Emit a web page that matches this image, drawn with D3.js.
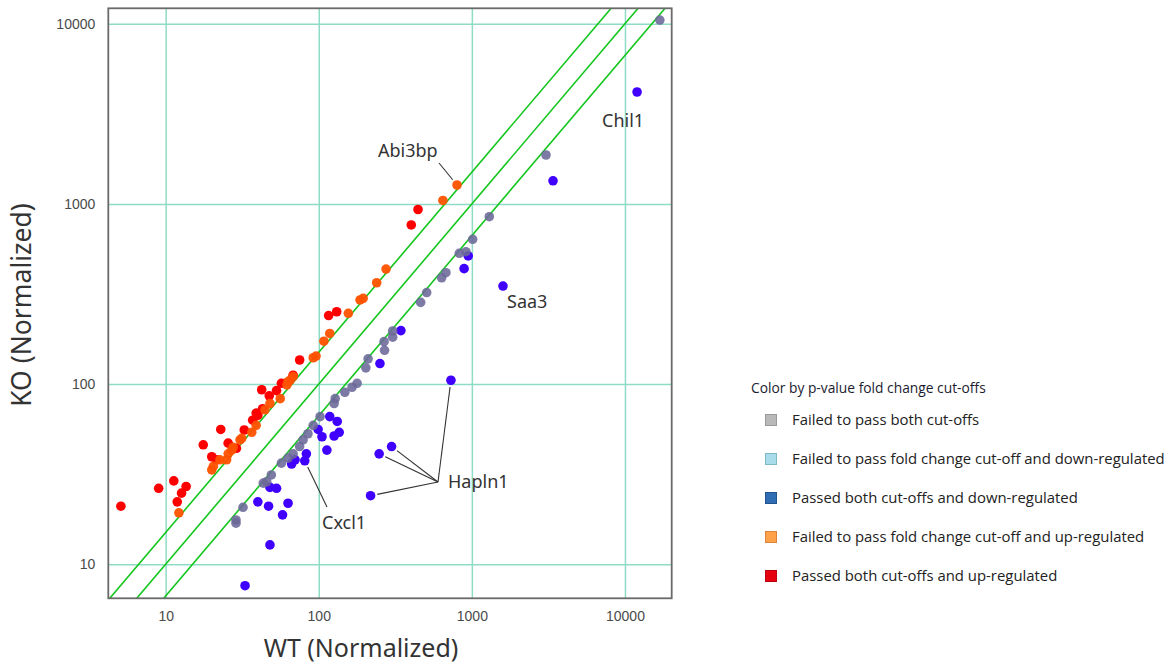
<!DOCTYPE html>
<html>
<head>
<meta charset="utf-8">
<script src="https://cdn.jsdelivr.net/npm/d3@7"></script>
<style>
  html, body { margin: 0; padding: 0; background: #fff; }
  svg { display: block; }
</style>
</head>
<body>
<svg id="chart" width="1176" height="664"></svg>
<script>
// ---------------- DATA ----------------
// [WT, KO] normalized expression pairs
const failedBoth = [
  [16900, 10480], [3050, 1868], [1300, 849], [1012, 636], [828, 532], [914, 543],
  [635, 389], [677, 415], [507, 322], [463, 284], [304, 197], [304, 182], [267, 172],
  [269, 154], [210, 138], [203, 123], [178, 101], [165, 96], [148, 90], [128, 83],
  [126, 78], [102, 66], [92, 59], [85, 53], [79, 49], [75, 45], [68, 41], [63, 38.8],
  [57, 36.4], [49, 31.3], [45.7, 28.7], [43.4, 28.2], [32, 20.7], [28.8, 17.6], [28.8, 16.9]
];
const passedDown = [
  [12000, 4180], [3390, 1343], [1597, 350], [730, 105], [299, 45], [248, 41], [218, 24],
  [890, 437], [947, 514], [251, 130], [344, 198], [118, 66], [132, 62], [136, 54],
  [126, 51.5], [99, 56], [105, 51], [113, 43], [83, 41], [81, 37.5], [70, 38], [66.5, 36],
  [48, 26.7], [53, 26.4], [40, 22.2], [47, 21], [63, 21.8], [58, 18.8], [48, 12.8], [33, 7.6]
];
const failedFcUp = [
  [800, 1273], [647, 1045], [275, 435], [239, 365], [195, 299], [186, 293], [156, 247],
  [118, 191], [108, 173], [92, 140], [96, 143], [65, 105], [62, 99], [56, 83], [48, 78],
  [44.5, 72], [39, 59], [36.5, 54], [31.4, 50], [27.6, 44.6], [25.6, 41], [22.6, 38],
  [20.5, 35], [20, 33.4], [25, 38], [27, 43], [30.6, 49], [12.2, 19.3], [68, 110], [63, 103]
];
const passedUp = [
  [445, 931], [402, 764], [131, 252], [116, 240], [75, 136], [68, 112], [57, 101],
  [53, 92], [42.4, 93], [47.5, 86], [43, 73], [39, 69], [37, 63], [40, 67], [22.9, 56],
  [32.6, 55.6], [25.6, 47], [17.6, 46], [20, 39.5], [21.5, 38], [29, 44], [9, 26.4],
  [11.3, 29], [13.6, 27], [12.7, 24.8], [11.9, 22.2], [5.1, 21]
];
const foldLines = [1, 1.5, 1 / 1.5];
const tickValues = [10, 100, 1000, 10000];
const legendTitle = "Color by p-value fold change cut-offs";
const legendLabels = [
  "Failed to pass both cut-offs",
  "Failed to pass fold change cut-off and down-regulated",
  "Passed both cut-offs and down-regulated",
  "Failed to pass fold change cut-off and up-regulated",
  "Passed both cut-offs and up-regulated"
];
const legendColors = ["#b9b9b9", "#a9dcea", "#2f6db5", "#ffa24a", "#e6000f"];
const legendStrokes = ["#9a9a9a", "#80b8c8", "#23538c", "#d9843a", "#b8000c"];
// gene annotations: gene, WT, KO of the point(s)
const geneLabels = [
  { gene: "Chil1", pts: [] },
  { gene: "Abi3bp", pts: [[800, 1273]] },
  { gene: "Saa3", pts: [] },
  { gene: "Cxcl1", pts: [[81, 37.5]] },
  { gene: "Hapln1", pts: [[730, 105], [299, 45], [248, 41], [218, 24]] }
];

// ---------------- CHART ----------------
const svg = d3.select("#chart");
const L = 108.3, R = 671.7, T = 8.3, B = 598.3;
const x = d3.scaleLog().domain([4.22, 20200]).range([L, R]);
const y = d3.scaleLog().domain([6.47, 12180]).range([B, T]);

svg.append("defs").append("clipPath").attr("id", "clip")
  .append("rect").attr("x", L).attr("y", T).attr("width", R - L).attr("height", B - T);

const gridColor = "#8fdcc6";
const gx = svg.append("g").attr("transform", `translate(0,${B})`)
  .call(d3.axisBottom(x).tickValues(tickValues).tickSize(-(B - T)).tickFormat(d3.format("d")).tickPadding(10));
gx.select(".domain").remove();
gx.selectAll(".tick line").attr("stroke", gridColor).attr("stroke-width", 1.5);
gx.selectAll(".tick text").attr("font-family", "Liberation Sans, Arial, sans-serif")
  .attr("font-size", 14).attr("fill", "#4a4a4a").attr("dy", "0.9em");

const gy = svg.append("g").attr("transform", `translate(${L},0)`)
  .call(d3.axisLeft(y).tickValues(tickValues).tickSize(-(R - L)).tickFormat(d3.format("d")).tickPadding(13));
gy.select(".domain").remove();
gy.selectAll(".tick line").attr("stroke", gridColor).attr("stroke-width", 1.5);
gy.selectAll(".tick text").attr("font-family", "Liberation Sans, Arial, sans-serif")
  .attr("font-size", 14).attr("fill", "#4a4a4a");

// fold-change lines
const plot = svg.append("g").attr("clip-path", "url(#clip)");
const xd = x.domain();
foldLines.forEach(f => {
  plot.append("line")
    .attr("x1", x(xd[0] / 2)).attr("y1", y(xd[0] / 2 * f))
    .attr("x2", x(xd[1] * 2)).attr("y2", y(xd[1] * 2 * f))
    .attr("stroke", "#14c61e").attr("stroke-width", 1.6);
});

const r = 4.8;
function drawPts(data, color, op) {
  plot.append("g").selectAll("circle").data(data).join("circle")
    .attr("cx", d => x(d[0])).attr("cy", d => y(d[1])).attr("r", r)
    .attr("fill", color).attr("fill-opacity", op);
}
drawPts(passedDown, "#4000ff", 1);
drawPts(failedBoth, "#6b6898", 0.88);
drawPts(passedUp, "#ff0000", 1);
drawPts(failedFcUp, "#ff5200", 0.95);

// frame
svg.append("rect").attr("x", L).attr("y", T).attr("width", R - L).attr("height", B - T)
  .attr("fill", "none").attr("stroke", "#6a6a6a").attr("stroke-width", 1.8);

// axis titles
const titleFont = "Noto Sans, Open Sans, sans-serif";
svg.append("text").attr("x", 361).attr("y", 657).attr("text-anchor", "middle")
  .attr("font-family", titleFont).attr("font-size", 25).attr("fill", "#333")
  .text("WT (Normalized)");
svg.append("text").attr("transform", "translate(31,305) rotate(-90)").attr("text-anchor", "middle")
  .attr("font-family", titleFont).attr("font-size", 26.5).attr("fill", "#333")
  .text("KO (Normalized)");

// gene annotations
const lab = svg.append("g").attr("font-family", titleFont).attr("font-size", 18).attr("fill", "#333");
const labelPos = { Chil1: [602, 127], Abi3bp: [378, 157], Saa3: [507, 308], Cxcl1: [322, 529], Hapln1: [448, 488] };
const anchorOff = { Abi3bp: [61, 6], Cxcl1: [5, -22], Hapln1: [-10, -6] };
geneLabels.forEach(g => {
  const [lx, ly] = labelPos[g.gene];
  lab.append("text").attr("x", lx).attr("y", ly).text(g.gene);
  if (g.pts.length) {
    const ax = lx + anchorOff[g.gene][0], ay = ly + anchorOff[g.gene][1];
    g.pts.forEach(p => {
      const px = x(p[0]), py = y(p[1]);
      const dx = ax - px, dy = ay - py, len = Math.hypot(dx, dy);
      const gap = r + 2;
      svg.append("line").attr("x1", ax).attr("y1", ay)
        .attr("x2", px + dx / len * gap).attr("y2", py + dy / len * gap)
        .attr("stroke", "#333").attr("stroke-width", 1.1);
    });
  }
});

// legend
const lg = svg.append("g").attr("font-family", "Open Sans, Noto Sans, sans-serif");
lg.append("text").attr("x", 751).attr("y", 393).attr("font-size", 13.8).attr("fill", "#1c1c30")
  .text(legendTitle);
legendLabels.forEach((t, i) => {
  const cy = 420 + i * 39;
  lg.append("rect").attr("x", 765.5).attr("y", cy - 5.5).attr("width", 11).attr("height", 11)
    .attr("fill", legendColors[i]).attr("stroke", legendStrokes[i]).attr("stroke-width", 1);
  lg.append("text").attr("x", 792).attr("y", cy + 5).attr("font-size", 14.9).attr("fill", "#222").text(t);
});
</script>
</body>
</html>
